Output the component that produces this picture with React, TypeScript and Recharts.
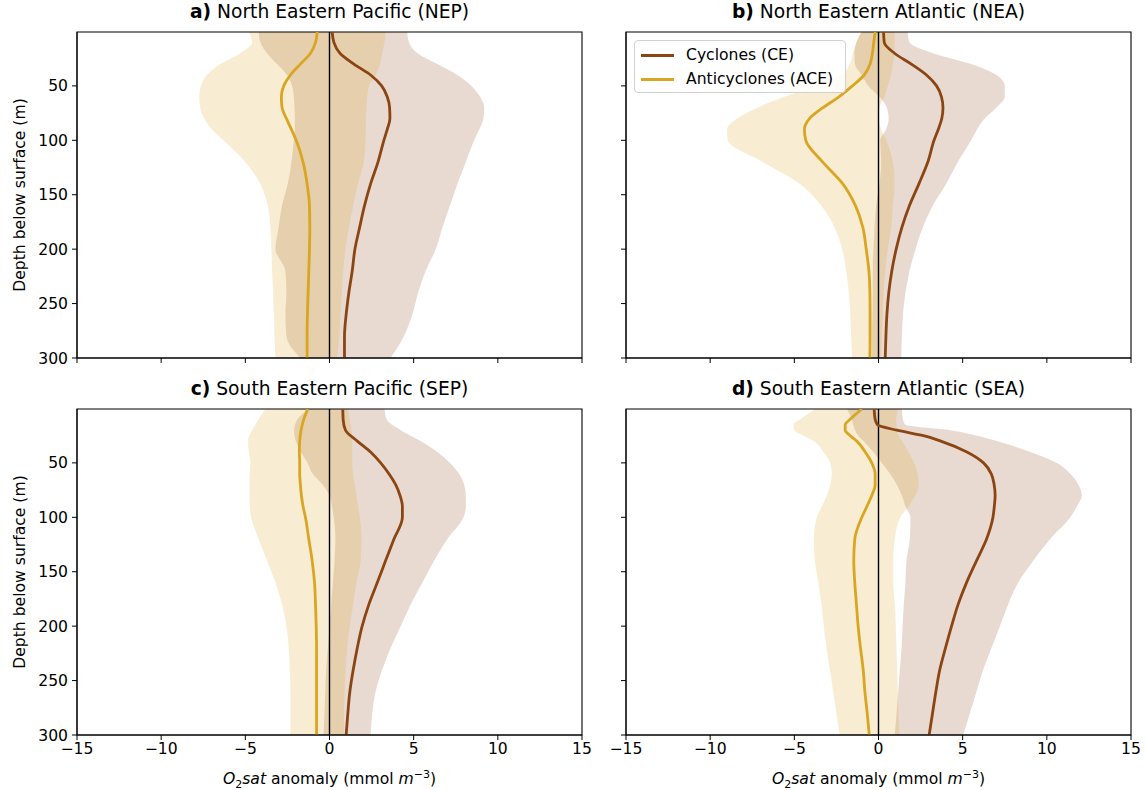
import React from "react";
import { ComposedChart, Area, Line, XAxis, YAxis, ReferenceLine, ReferenceArea } from "recharts";

// depth levels (m) used for the profiles
const DEPTHS = [0.5, 10, 20, 30, 40, 50, 60, 70, 80, 90, 100, 120, 140, 160, 180, 200, 220, 240, 260, 280, 300];
const DEPTHS_SEA = [0.5, 10, 15, 20, 25, 30, 40, 50, 60, 70, 80, 90, 100, 120, 140, 160, 180, 200, 220, 240, 260, 280, 300];

// a) NEP
const NEP_CE = [0.16, 0.26, 0.62, 1.45, 2.44, 3.1, 3.43, 3.57, 3.59, 3.43, 3.23, 2.88, 2.44, 2.08, 1.79, 1.51, 1.35, 1.15, 0.99, 0.89, 0.89];
const NEP_ACE = [-0.73, -0.83, -1.13, -1.73, -2.32, -2.72, -2.86, -2.82, -2.56, -2.26, -1.98, -1.57, -1.33, -1.19, -1.17, -1.19, -1.23, -1.27, -1.31, -1.33, -1.33];
const NEP_CE_LO = [-4.21, -4.11, -3.71, -3.12, -2.52, -2.22, -2.12, -2.08, -2.06, -2.06, -2.12, -2.26, -2.48, -2.82, -3.02, -3.21, -2.62, -2.56, -2.62, -2.56, -1.73];
const NEP_CE_HI = [4.62, 4.72, 5.22, 6.41, 7.6, 8.43, 8.95, 9.19, 9.15, 8.89, 8.59, 8.1, 7.6, 7.16, 6.71, 6.31, 5.71, 5.26, 4.92, 4.42, 3.63];
const NEP_ACE_LO = [-4.8, -4.6, -5.3, -6.49, -7.28, -7.64, -7.74, -7.68, -7.44, -6.98, -6.29, -5.0, -4.11, -3.67, -3.51, -3.45, -3.41, -3.35, -3.31, -3.27, -3.21];
const NEP_ACE_HI = [3.33, 3.27, 3.13, 3.0, 2.74, 2.34, 2.24, 2.2, 2.16, 2.16, 2.14, 2.04, 1.69, 1.41, 1.15, 0.95, 0.81, 0.73, 0.65, 0.58, 0.46];

// b) NEA
const NEA_CE = [0.3, 0.34, 0.95, 1.95, 2.85, 3.45, 3.74, 3.83, 3.76, 3.55, 3.3, 2.93, 2.4, 1.84, 1.39, 1.05, 0.79, 0.61, 0.5, 0.44, 0.4];
const NEA_ACE = [-0.2, -0.28, -0.36, -0.5, -0.85, -1.55, -2.35, -3.3, -4.1, -4.4, -4.32, -3.31, -2.12, -1.37, -0.93, -0.73, -0.57, -0.51, -0.5, -0.5, -0.51];
const NEA_CE_LO = [-1.0, -1.3, -1.43, -1.4, -1.0, -0.6, 0.05, 0.5, 0.6, 0.45, 0.1, 0.16, 0.06, -0.14, -0.24, -0.3, -0.34, -0.34, -0.36, -0.38, -0.38];
const NEA_CE_HI = [1.74, 1.84, 3.23, 5.5, 7.0, 7.5, 7.5, 7.0, 6.3, 5.85, 5.5, 4.71, 4.02, 3.23, 2.63, 2.2, 1.84, 1.6, 1.45, 1.39, 1.35];
const NEA_ACE_LO = [-1.03, -1.33, -1.52, -1.7, -2.2, -3.8, -5.6, -7.2, -8.4, -9.0, -8.95, -6.87, -4.69, -3.41, -2.61, -2.16, -1.92, -1.76, -1.68, -1.62, -1.56];
const NEA_ACE_HI = [0.95, 0.95, 0.95, 0.85, 0.75, 0.55, 0.36, 0.06, 0.02, 0.16, 0.46, 0.85, 0.95, 0.85, 0.75, 0.55, 0.4, 0.3, 0.25, 0.2, 0.16];

// c) SEP
const SEP_CE = [0.79, 0.81, 0.95, 1.65, 2.44, 3.04, 3.53, 3.93, 4.19, 4.33, 4.33, 3.83, 3.33, 2.84, 2.34, 1.94, 1.65, 1.41, 1.21, 1.09, 0.99];
const SEP_ACE = [-1.29, -1.53, -1.69, -1.77, -1.79, -1.77, -1.77, -1.73, -1.67, -1.57, -1.43, -1.23, -1.03, -0.89, -0.83, -0.79, -0.77, -0.77, -0.77, -0.77, -0.77];
const SEP_CE_LO = [-1.25, -1.9, -2.1, -2.0, -1.7, -1.3, -1.0, -0.4, 0.0, 0.15, 0.25, 0.35, 0.3, 0.2, 0.1, 0.0, -0.1, -0.2, -0.25, -0.3, -0.35];
const SEP_CE_HI = [3.27, 3.39, 4.23, 5.42, 6.41, 7.16, 7.7, 8.0, 8.1, 8.1, 7.96, 7.0, 6.21, 5.52, 4.82, 4.23, 3.63, 3.13, 2.74, 2.54, 2.44];
const SEP_ACE_LO = [-3.81, -4.21, -4.6, -4.84, -4.8, -4.7, -4.74, -4.76, -4.76, -4.74, -4.66, -4.21, -3.71, -3.21, -2.82, -2.56, -2.42, -2.36, -2.32, -2.32, -2.32];
const SEP_ACE_HI = [1.1, 1.2, 1.3, 1.35, 1.35, 1.35, 1.4, 1.5, 1.6, 1.7, 1.8, 1.9, 1.85, 1.6, 1.4, 1.2, 1.05, 0.95, 0.9, 0.85, 0.85];

// d) SEA
const SEA_CE = [-0.26, -0.2, -0.06, 1.09, 2.67, 3.7, 5.25, 6.24, 6.7, 6.87, 6.93, 6.88, 6.8, 6.42, 5.82, 5.23, 4.73, 4.34, 3.98, 3.64, 3.41, 3.21, 3.01];
const SEA_ACE = [-0.99, -1.68, -1.98, -1.98, -1.68, -1.29, -0.79, -0.4, -0.2, -0.2, -0.4, -0.69, -0.99, -1.41, -1.47, -1.41, -1.31, -1.21, -1.07, -0.91, -0.81, -0.67, -0.55];
const SEA_CE_LO = [-1.88, -1.58, -1.5, -1.39, -1.2, -0.89, -0.3, 0.2, 0.69, 1.09, 1.39, 1.6, 1.9, 1.86, 1.66, 1.6, 1.5, 1.43, 1.37, 1.27, 1.17, 1.07, 0.97];
const SEA_CE_HI = [1.39, 1.45, 1.6, 4.26, 5.84, 7.03, 9.01, 10.59, 11.39, 11.88, 12.08, 11.78, 11.39, 10.2, 9.19, 8.3, 7.7, 7.21, 6.71, 6.22, 5.82, 5.43, 5.03];
const SEA_ACE_LO = [-3.76, -4.65, -5.05, -5.0, -4.46, -3.86, -3.27, -2.87, -2.77, -2.87, -3.07, -3.37, -3.66, -3.84, -3.78, -3.58, -3.39, -3.25, -3.09, -2.89, -2.69, -2.5, -2.3];
const SEA_ACE_HI = [1.19, 1.05, 1.07, 1.09, 1.2, 1.39, 1.78, 2.12, 2.32, 2.38, 2.18, 1.78, 1.3, 0.97, 0.87, 0.87, 0.97, 1.03, 1.07, 1.11, 1.15, 1.19, 1.23];

const X_TICKS = [-15, -10, -5, 0, 5, 10, 15];
const Y_TICKS = [50, 100, 150, 200, 250, 300];
const LEGEND_ITEMS = [
  { label: "Cyclones (CE)", color: "#8b4513" },
  { label: "Anticyclones (ACE)", color: "#daa520" },
];

const CE_COLOR = "#8b4513";
const ACE_COLOR = "#daa520";
const FONT = "'DejaVu Sans', sans-serif";
const FS = 15.6; // 10pt
const TITLE_FS = 18.7; // 12pt

const toRows = (depths: number[], ce: number[], ace: number[], ceLo: number[], ceHi: number[], aceLo: number[], aceHi: number[]) =>
  depths.map((d, i) => ({
    depth: d,
    ce: ce[i],
    ace: ace[i],
    ceBand: [ceLo[i], ceHi[i]],
    aceBand: [aceLo[i], aceHi[i]],
  }));

const PANELS = [
  { letter: "a)", name: "North Eastern Pacific (NEP)", left: 77, top: 32, yLabels: true, xLabels: false,
    data: toRows(DEPTHS, NEP_CE, NEP_ACE, NEP_CE_LO, NEP_CE_HI, NEP_ACE_LO, NEP_ACE_HI) },
  { letter: "b)", name: "North Eastern Atlantic (NEA)", left: 626, top: 32, yLabels: false, xLabels: false,
    data: toRows(DEPTHS, NEA_CE, NEA_ACE, NEA_CE_LO, NEA_CE_HI, NEA_ACE_LO, NEA_ACE_HI) },
  { letter: "c)", name: "South Eastern Pacific (SEP)", left: 77, top: 409, yLabels: true, xLabels: true,
    data: toRows(DEPTHS, SEP_CE, SEP_ACE, SEP_CE_LO, SEP_CE_HI, SEP_ACE_LO, SEP_ACE_HI) },
  { letter: "d)", name: "South Eastern Atlantic (SEA)", left: 626, top: 409, yLabels: false, xLabels: true,
    data: toRows(DEPTHS_SEA, SEA_CE, SEA_ACE, SEA_CE_LO, SEA_CE_HI, SEA_ACE_LO, SEA_ACE_HI) },
];

const PLOT_W = 505;
const PLOT_H = 326;
const ML = 77;
const MT = 32;
const MR = 19;
const MB = 34;
const Y_AXIS_W = 70;

const fmtTick = (v: number) => (v < 0 ? `\u2212${Math.abs(v)}` : String(v));
const tickStyle = { fill: "#000", fontSize: FS, fontFamily: FONT };

function Panel({ p }: { p: (typeof PANELS)[number] }) {
  return (
    <>
      <div style={{ position: "absolute", left: p.left - ML, top: p.top - MT }}>
        <ComposedChart
          layout="vertical"
          width={ML + PLOT_W + MR}
          height={MT + PLOT_H + MB}
          data={p.data}
          margin={{ top: MT, right: MR, bottom: 0, left: ML - Y_AXIS_W }}
        >
          <XAxis
            type="number"
            domain={[-15, 15]}
            ticks={X_TICKS}
            allowDataOverflow
            height={MB}
            tickSize={5}
            tickMargin={3}
            tick={tickStyle}
            tickFormatter={p.xLabels ? fmtTick : () => ""}
            axisLine={{ stroke: "#000" }}
            tickLine={{ stroke: "#000" }}
          />
          <YAxis
            type="number"
            dataKey="depth"
            domain={[0.5, 300]}
            ticks={Y_TICKS}
            allowDataOverflow
            width={Y_AXIS_W}
            tickSize={5}
            tickMargin={4}
            tick={tickStyle}
            tickFormatter={p.yLabels ? fmtTick : () => ""}
            axisLine={{ stroke: "#000" }}
            tickLine={{ stroke: "#000" }}
          />
          <Area dataKey="ceBand" type="monotone" fill={CE_COLOR} fillOpacity={0.2} stroke="none" dot={false} activeDot={false} isAnimationActive={false} />
          <Area dataKey="aceBand" type="monotone" fill={ACE_COLOR} fillOpacity={0.2} stroke="none" dot={false} activeDot={false} isAnimationActive={false} />
          <ReferenceLine x={0} stroke="#000" strokeWidth={1.4} />
          <Line dataKey="ce" type="monotone" stroke={CE_COLOR} strokeWidth={2.8} dot={false} activeDot={false} isAnimationActive={false} />
          <Line dataKey="ace" type="monotone" stroke={ACE_COLOR} strokeWidth={2.8} dot={false} activeDot={false} isAnimationActive={false} />
          <ReferenceArea x1={-15} x2={15} y1={0.5} y2={300} fill="none" fillOpacity={0} stroke="#000" strokeWidth={1.1} />
        </ComposedChart>
      </div>
      <div
        style={{
          position: "absolute", left: p.left - 40, top: p.top - 31, width: PLOT_W + 80, textAlign: "center",
          fontSize: TITLE_FS, lineHeight: "22px", fontFamily: FONT, color: "#000", whiteSpace: "nowrap",
        }}
      >
        <b>{p.letter}</b> {p.name}
      </div>
      {p.yLabels && (
        <div
          style={{
            position: "absolute", left: 20 - PLOT_H / 2, top: p.top + PLOT_H / 2 - 10, width: PLOT_H, height: 20,
            lineHeight: "20px", textAlign: "center", transform: "rotate(-90deg)", fontSize: FS, fontFamily: FONT,
            color: "#000", whiteSpace: "nowrap",
          }}
        >
          Depth below surface (m)
        </div>
      )}
      {p.xLabels && (
        <div
          style={{
            position: "absolute", left: p.left, top: p.top + PLOT_H + 30, width: PLOT_W, textAlign: "center",
            fontSize: FS, lineHeight: "20px", fontFamily: FONT, color: "#000", whiteSpace: "nowrap",
          }}
        >
          <i>O</i>
          <sub style={{ fontSize: 11 }}>2</sub>
          <i>sat</i> anomaly (mmol <i>m</i>
          <sup style={{ fontSize: 11 }}>{"\u22123"}</sup>)
        </div>
      )}
    </>
  );
}

export default function App() {
  return (
    <div style={{ position: "absolute", left: 0, top: 0, width: 1146, height: 790, background: "#fff", fontFamily: FONT }}>
      {PANELS.map((p) => (
        <Panel key={p.letter} p={p} />
      ))}
      <div
        style={{
          position: "absolute", left: 634, top: 40, width: 212, height: 53, boxSizing: "border-box",
          border: "1px solid #d0d0d0", borderRadius: 4, background: "rgba(255,255,255,0.8)", fontFamily: FONT, fontSize: FS,
        }}
      >
        {LEGEND_ITEMS.map((item, i) => (
          <div key={item.label} style={{ position: "absolute", left: 6, top: 3 + i * 24, height: 22, display: "flex", alignItems: "center" }}>
            <span style={{ display: "inline-block", width: 33, height: 3, background: item.color, marginRight: 12 }} />
            <span style={{ whiteSpace: "nowrap", color: "#000" }}>{item.label}</span>
          </div>
        ))}
      </div>
    </div>
  );
}
